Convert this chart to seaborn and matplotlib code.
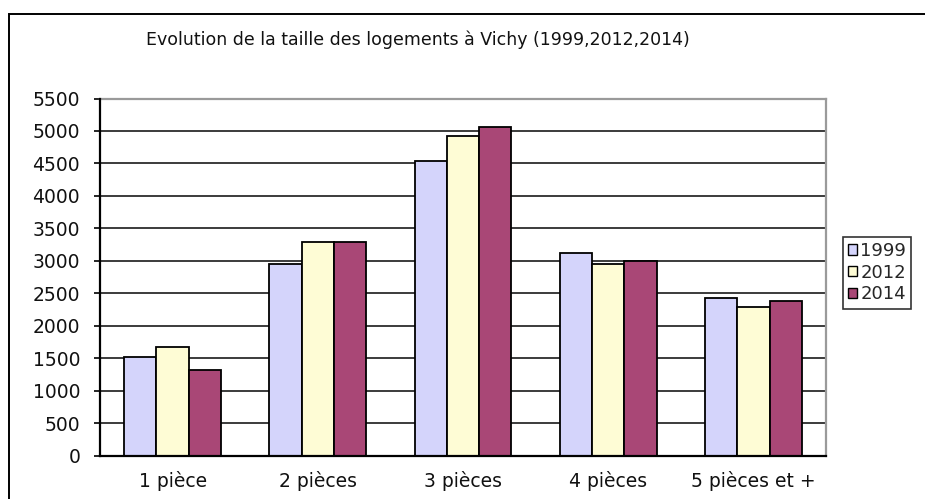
import matplotlib
matplotlib.use("Agg")
import matplotlib.pyplot as plt
from matplotlib.patches import Rectangle, Patch
from matplotlib.ticker import FixedLocator, NullFormatter
import seaborn as sns
import pandas as pd

# Housing size categories and counts per census year
categories = ["1 pièce", "2 pièces", "3 pièces", "4 pièces", "5 pièces et +"]
years = ["1999", "2012", "2014"]
values_1999 = [1514, 2955, 4541, 3125, 2427]
values_2012 = [1667, 3289, 4920, 2955, 2283]
values_2014 = [1324, 3289, 5064, 3001, 2381]
yticks = list(range(0, 5501, 500))

colors = ["#D4D4FB", "#FEFCD5", "#A94776"]
title = "Evolution de la taille des logements à Vichy (1999,2012,2014)"

df = pd.DataFrame({
    "categorie": categories * 3,
    "annee": [y for y in years for _ in categories],
    "valeur": values_1999 + values_2012 + values_2014,
})

sns.set_theme(style="white")
plt.rcParams["font.family"] = ["DejaVu Sans"]

W, H = 925, 499
fig = plt.figure(figsize=(W / 100, H / 100), dpi=100)
ax = fig.add_axes([100 / W, 1 - 455.7 / H, (826 - 100) / W, (455.7 - 98.5) / H])

sns.barplot(data=df, x="categorie", y="valeur", hue="annee", order=categories,
            hue_order=years, palette=colors, width=0.667, saturation=1,
            edgecolor="black", linewidth=1.3, ax=ax, legend=False, zorder=3)

ax.set_xlim(-0.5, len(categories) - 0.5)
ax.set_ylim(0, 5500)
ax.set_yticks(yticks)
ax.set_yticklabels([str(v) for v in yticks], fontsize=13.5, color="#111111")
for v in yticks[1:-1]:
    ax.axhline(v, color="#1a1a1a", linewidth=1.2, zorder=1)

ax.set_xticks(range(len(categories)))
ax.set_xticklabels(categories, fontsize=13.5, color="#111111")
ax.xaxis.set_minor_locator(FixedLocator([i - 0.5 for i in range(len(categories) + 1)]))
ax.xaxis.set_minor_formatter(NullFormatter())
ax.tick_params(axis="x", which="major", length=0, pad=11)
ax.tick_params(axis="x", which="minor", length=4.3, width=1.2, color="black", direction="out")
ax.tick_params(axis="y", length=4.3, width=1.2, color="black", direction="out", left=True, pad=10)
ax.set_xlabel("")
ax.set_ylabel("")

for side in ["left", "bottom"]:
    ax.spines[side].set_color("black")
    ax.spines[side].set_linewidth(1.6)
    ax.spines[side].set_zorder(5)
for side in ["top", "right"]:
    ax.spines[side].set_color("#9a9a9a")
    ax.spines[side].set_linewidth(1.6)

fig.text(418 / W, 1 - 40 / H, title, ha="center", va="center", fontsize=12.5, color="#111111")

handles = [Patch(facecolor=c, edgecolor="black", linewidth=1.0) for c in colors]
leg = fig.legend(handles, years, loc="upper left", bbox_to_anchor=(843 / W, 1 - 236.5 / H),
                 frameon=True, fancybox=False, fontsize=13, handlelength=0.5, handleheight=0.5,
                 handletextpad=0.15, borderpad=0.3, labelspacing=0.2, borderaxespad=0)
leg.get_frame().set_edgecolor("black")
leg.get_frame().set_linewidth(1.2)

# Outer chart frame, open past the right and bottom edges
fig.patches.append(Rectangle((9 / W, -0.05), 1.1, 1 - 14 / H + 0.05, transform=fig.transFigure,
                             fill=False, edgecolor="black", linewidth=1.4))

fig.savefig("out.png", dpi=100)
